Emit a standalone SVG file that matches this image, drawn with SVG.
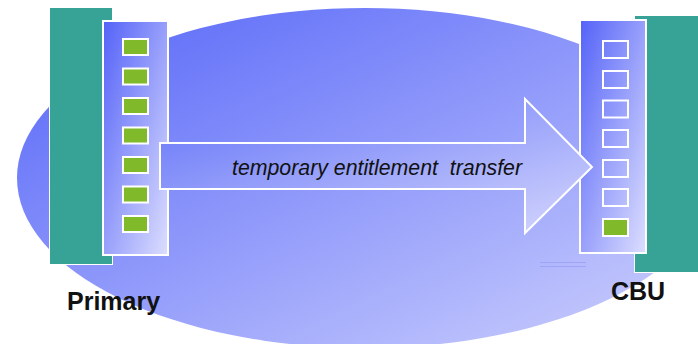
<svg xmlns="http://www.w3.org/2000/svg" width="698" height="344" viewBox="0 0 698 344">
  <defs>
    <linearGradient id="gEllipse" x1="0" y1="0" x2="1" y2="1">
      <stop offset="0" stop-color="#5565f8"/>
      <stop offset="1" stop-color="#cfd2fd"/>
    </linearGradient>
    <linearGradient id="gPanel" x1="0" y1="0" x2="1" y2="1">
      <stop offset="0" stop-color="#5462f8"/>
      <stop offset="1" stop-color="#dcdefe"/>
    </linearGradient>
    <linearGradient id="gArrow" x1="0" y1="0" x2="1" y2="1">
      <stop offset="0" stop-color="#6474f8"/>
      <stop offset="1" stop-color="#d4d6fd"/>
    </linearGradient>
  </defs>
  <style>
    .teal { fill: #37a396; stroke: #ffffff; stroke-width: 1; }
    .panel { fill: url(#gPanel); stroke: #ffffff; stroke-width: 2; }
    .slot { stroke: #ffffff; stroke-width: 2; }
    .on { fill: #80b92a; }
    .off { fill: none; }
    .label { font-family: "Liberation Sans", Arial, sans-serif; font-weight: bold; font-size: 25px; fill: #111111; }
    .flow { font-family: "Liberation Sans", Arial, sans-serif; font-style: italic; font-size: 21.3px; fill: #111111; }
  </style>

  <!-- backdrop -->
  <ellipse cx="365" cy="178" rx="348" ry="170" fill="url(#gEllipse)"/>
  <g stroke="#9ea4f8" stroke-width="1">
    <line x1="540" y1="262.5" x2="586" y2="262.5"/>
    <line x1="540" y1="266.5" x2="586" y2="266.5"/>
  </g>

  <!-- Primary system -->
  <g id="primary">
    <rect class="teal" x="49.5" y="7.5" width="63" height="257"/>
    <rect class="panel" x="103" y="21" width="65" height="234"/>
    <g class="slot on">
      <rect x="123" y="39" width="25" height="16"/>
      <rect x="123" y="68.5" width="25" height="16"/>
      <rect x="123" y="98" width="25" height="16"/>
      <rect x="123" y="127.5" width="25" height="16"/>
      <rect x="123" y="157" width="25" height="16"/>
      <rect x="123" y="186.5" width="25" height="16"/>
      <rect x="123" y="216" width="25" height="16"/>
    </g>
    <text class="label" x="67" y="310">Primary</text>
  </g>

  <!-- CBU system -->
  <g id="cbu">
    <rect class="teal" x="634.5" y="15.5" width="70" height="257"/>
    <rect class="panel" x="580" y="20" width="66" height="233"/>
    <g class="slot off">
      <rect x="603" y="41" width="25" height="17"/>
      <rect x="603" y="71" width="25" height="17"/>
      <rect x="603" y="100.5" width="25" height="17"/>
      <rect x="603" y="130" width="25" height="17"/>
      <rect x="603" y="160" width="25" height="17"/>
      <rect x="603" y="189" width="25" height="17"/>
    </g>
    <rect class="slot on" x="603" y="219" width="25" height="17"/>
    <text class="label" x="611" y="300">CBU</text>
  </g>

  <!-- transfer arrow -->
  <g id="connectors">
    <path d="M160,143 L525,143 L525,99 L592,167 L525,233 L525,189 L160,189 Z" fill="url(#gArrow)" stroke="#ffffff" stroke-width="2" stroke-linejoin="miter"/>
    <text class="flow" x="232" y="175" xml:space="preserve">temporary entitlement  transfer</text>
  </g>
</svg>
